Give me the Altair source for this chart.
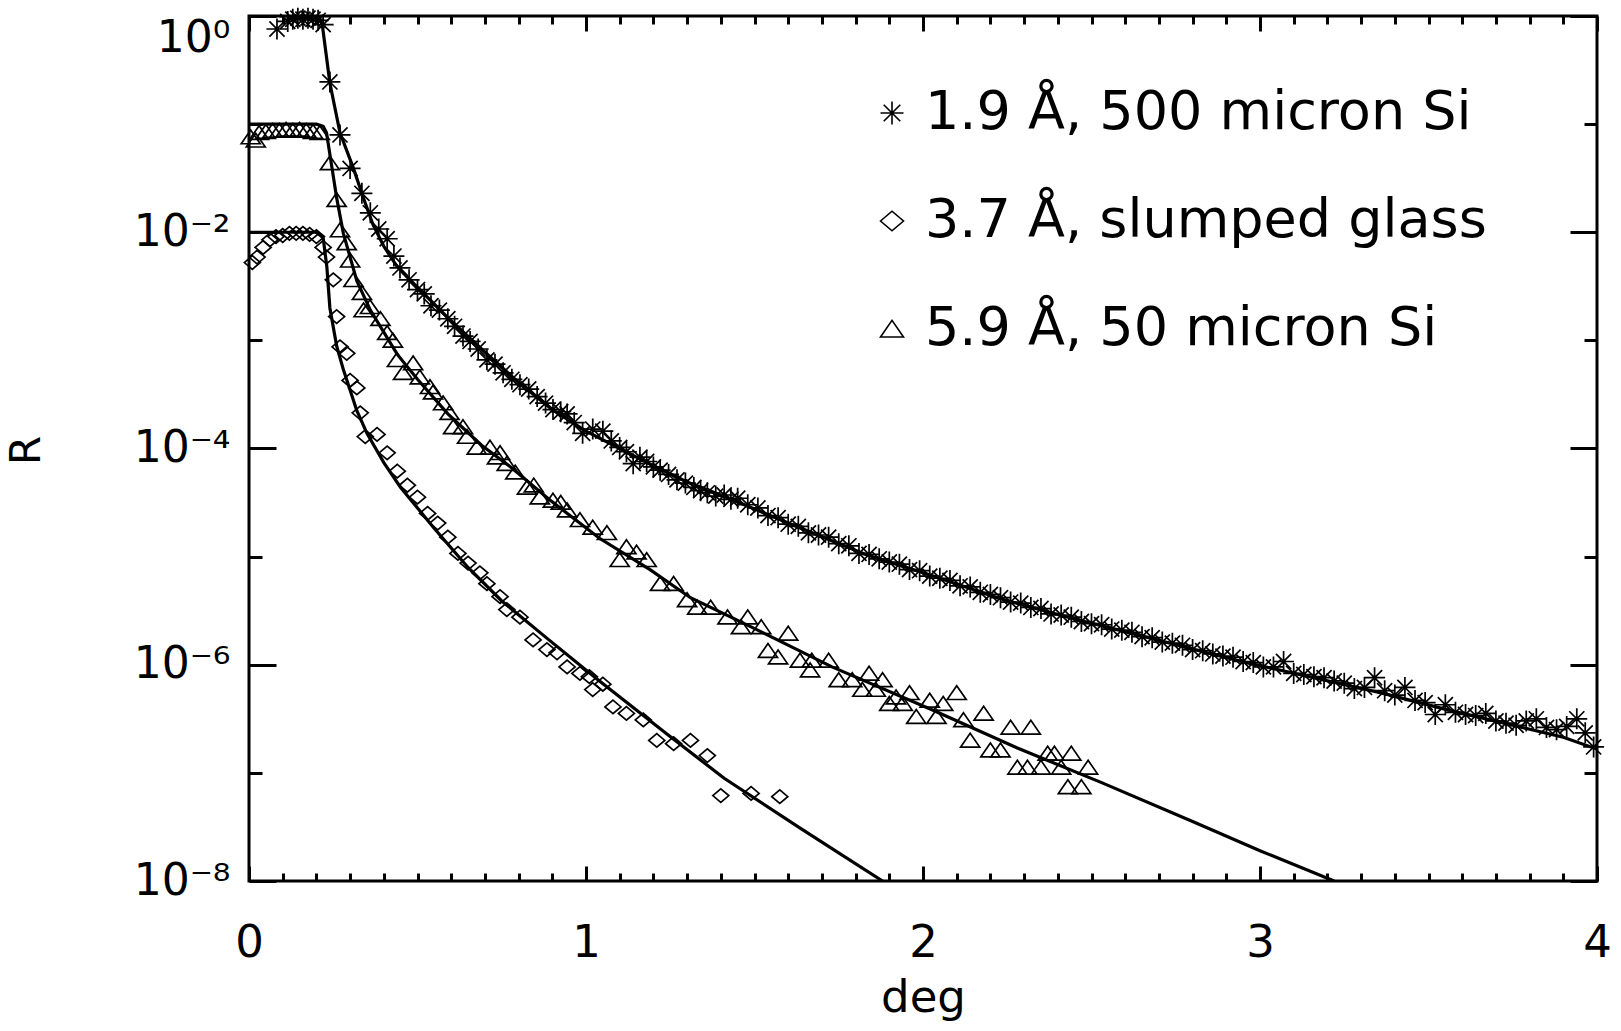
import altair as alt
import pandas as pd

S1 = "1.9 Å, 500 micron Si"
S2 = "3.7 Å, slumped glass"
S3 = "5.9 Å, 50 micron Si"
SERIES = [S1, S2, S3]

# ---- model curves (angle in deg, log10 R) ----
fit1_x = [0.09, 0.16, 0.205, 0.217, 0.24, 0.27, 0.309, 0.338, 0.368, 0.40, 0.44, 0.50, 0.59, 0.69, 0.80,
          0.90, 1.00, 1.10, 1.20, 1.30, 1.40, 1.50, 1.64, 1.83, 2.03, 2.23, 2.43, 2.62, 2.82, 2.96,
          3.16, 3.36, 3.56, 3.75, 3.90, 4.00]
fit1_lg = [0.0, 0.0, -0.01, -0.07, -0.62, -1.08, -1.40, -1.67, -1.93, -2.13, -2.32, -2.51, -2.79, -3.08, -3.39,
           -3.64, -3.84, -4.00, -4.16, -4.31, -4.43, -4.56, -4.74, -4.98, -5.18, -5.39, -5.56, -5.71, -5.87, -5.98,
           -6.12, -6.26, -6.42, -6.56, -6.67, -6.78]

fit2_x = [0.0, 0.20, 0.22, 0.231, 0.24, 0.26, 0.28, 0.32, 0.35, 0.40, 0.45, 0.55, 0.65, 0.75, 0.89,
          1.04, 1.24, 1.41, 1.64, 1.88]
fit2_lg = [-2.0, -2.0, -2.05, -2.32, -2.70, -3.05, -3.27, -3.65, -3.86, -4.13, -4.36, -4.74, -5.10, -5.41, -5.77,
           -6.15, -6.64, -7.05, -7.52, -8.0]

fit3_x = [0.0, 0.20, 0.22, 0.23, 0.246, 0.26, 0.28, 0.32, 0.36, 0.44, 0.50, 0.59, 0.69, 0.78, 0.89,
          1.04, 1.19, 1.31, 1.49, 1.73, 2.03, 2.28, 2.53, 2.80, 3.00, 3.22]
fit3_lg = [-1.0, -1.0, -1.02, -1.08, -1.40, -1.68, -2.01, -2.45, -2.72, -3.13, -3.36, -3.68, -3.97, -4.18, -4.47,
           -4.83, -5.12, -5.38, -5.65, -6.02, -6.42, -6.77, -7.09, -7.45, -7.72, -8.0]

# ---- measured points ----
pts1_x = [0.083, 0.115, 0.13, 0.145, 0.16, 0.175, 0.19, 0.205, 0.22, 0.24, 0.27, 0.30, 0.335, 0.36, 0.385,
          0.41, 0.43, 0.448, 0.475, 0.50, 0.52, 0.54, 0.565, 0.59, 0.61, 0.635, 0.656, 0.68, 0.706, 0.73,
          0.754, 0.78, 0.804, 0.83, 0.855, 0.88, 0.902, 0.925, 0.944, 0.965, 0.99, 1.02, 1.05, 1.075, 1.10,
          1.12, 1.14, 1.16, 1.18, 1.20, 1.22, 1.245, 1.27, 1.295, 1.32, 1.34, 1.36, 1.385, 1.41, 1.43,
          1.45, 1.48, 1.51, 1.54, 1.57, 1.60, 1.63, 1.66, 1.69, 1.72, 1.75, 1.78, 1.81, 1.84, 1.87,
          1.90, 1.93, 1.96, 1.99, 2.02, 2.05, 2.08, 2.11, 2.14, 2.17, 2.20, 2.23, 2.26, 2.29, 2.32,
          2.35, 2.38, 2.41, 2.44, 2.47, 2.50, 2.53, 2.56, 2.59, 2.62, 2.65, 2.68, 2.71, 2.74, 2.77,
          2.80, 2.83, 2.86, 2.89, 2.92, 2.95, 2.98, 3.01, 3.04, 3.07, 3.10, 3.13, 3.16, 3.19, 3.22,
          3.25, 3.28, 3.31, 3.34, 3.37, 3.40, 3.43, 3.46, 3.49, 3.52, 3.55, 3.58, 3.61, 3.64, 3.67,
          3.70, 3.73, 3.76, 3.79, 3.82, 3.85, 3.88, 3.91, 3.94, 3.965, 3.99]
pts1_lg = [-0.12, -0.05, -0.03, -0.02, -0.03, -0.02, -0.03, -0.04, -0.08, -0.61, -1.10, -1.41, -1.64, -1.82, -1.97,
           -2.06, -2.22, -2.33, -2.44, -2.53, -2.57, -2.68, -2.72, -2.80, -2.87, -2.96, -3.01, -3.08, -3.18, -3.22,
           -3.30, -3.36, -3.41, -3.45, -3.52, -3.58, -3.64, -3.66, -3.68, -3.76, -3.86, -3.82, -3.84, -3.93, -3.99,
           -4.03, -4.14, -4.08, -4.12, -4.17, -4.20, -4.24, -4.29, -4.32, -4.36, -4.39, -4.41, -4.44, -4.43, -4.47,
           -4.46, -4.52, -4.55, -4.62, -4.64, -4.70, -4.72, -4.78, -4.80, -4.82, -4.88, -4.90, -4.97, -4.98, -5.02,
           -5.05, -5.07, -5.12, -5.13, -5.18, -5.20, -5.22, -5.27, -5.28, -5.33, -5.35, -5.38, -5.42, -5.43, -5.47,
           -5.48, -5.53, -5.54, -5.56, -5.60, -5.62, -5.63, -5.67, -5.68, -5.70, -5.74, -5.75, -5.79, -5.80, -5.82,
           -5.86, -5.87, -5.90, -5.92, -5.93, -5.97, -5.98, -6.02, -6.02, -5.97, -6.08, -6.09, -6.11, -6.12, -6.15,
           -6.17, -6.22, -6.21, -6.12, -6.24, -6.28, -6.21, -6.33, -6.35, -6.46, -6.37, -6.44, -6.46, -6.47, -6.45,
           -6.52, -6.54, -6.56, -6.52, -6.50, -6.58, -6.60, -6.57, -6.50, -6.63, -6.76]

pts2_x = [0.01, 0.024, 0.042, 0.062, 0.08, 0.10, 0.12, 0.14, 0.16, 0.18, 0.20, 0.22, 0.23, 0.25, 0.26,
          0.27, 0.29, 0.30, 0.32, 0.33, 0.345, 0.38, 0.41, 0.44, 0.47, 0.50, 0.53, 0.56, 0.59, 0.62,
          0.65, 0.685, 0.706, 0.745, 0.765, 0.804, 0.843, 0.884, 0.914, 0.944, 0.982, 1.01, 1.02, 1.05, 1.08,
          1.12, 1.17, 1.21, 1.26, 1.31, 1.36, 1.40, 1.49, 1.575]
pts2_lg = [-2.28, -2.23, -2.14, -2.07, -2.04, -2.03, -2.01, -2.01, -2.01, -2.02, -2.04, -2.14, -2.23, -2.44, -2.78,
           -3.06, -3.12, -3.37, -3.44, -3.67, -3.89, -3.87, -4.04, -4.21, -4.34, -4.45, -4.60, -4.69, -4.82, -4.97,
           -5.06, -5.15, -5.25, -5.37, -5.49, -5.56, -5.77, -5.86, -5.89, -6.02, -6.08, -6.11, -6.23, -6.18, -6.39,
           -6.45, -6.51, -6.70, -6.73, -6.70, -6.84, -7.21, -7.19, -7.22]

pts3_x = [0.005, 0.02, 0.03, 0.05, 0.07, 0.09, 0.11, 0.13, 0.15, 0.17, 0.19, 0.21, 0.24, 0.26, 0.27,
          0.29, 0.30, 0.31, 0.335, 0.34, 0.359, 0.39, 0.41, 0.427, 0.439, 0.457, 0.487, 0.507, 0.537, 0.546,
          0.576, 0.595, 0.606, 0.635, 0.647, 0.676, 0.715, 0.736, 0.745, 0.765, 0.79, 0.825, 0.845, 0.863, 0.902,
          0.925, 0.944, 0.982, 1.02, 1.062, 1.10, 1.12, 1.15, 1.18, 1.22, 1.26, 1.30, 1.33, 1.37, 1.42,
          1.46, 1.48, 1.52, 1.54, 1.57, 1.60, 1.635, 1.665, 1.67, 1.72, 1.75, 1.79, 1.82, 1.84, 1.86,
          1.88, 1.90, 1.92, 1.94, 1.96, 1.98, 2.02, 2.04, 2.06, 2.10, 2.12, 2.14, 2.18, 2.20, 2.23,
          2.26, 2.28, 2.31, 2.32, 2.35, 2.37, 2.39, 2.41, 2.43, 2.44, 2.47, 2.49]
pts3_lg = [-1.12, -1.15, -1.08, -1.07, -1.06, -1.06, -1.05, -1.06, -1.05, -1.06, -1.07, -1.08, -1.36, -1.70, -1.98,
           -2.10, -2.26, -2.44, -2.56, -2.72, -2.69, -2.80, -2.93, -3.00, -3.18, -3.30, -3.21, -3.34, -3.43, -3.48,
           -3.58, -3.67, -3.80, -3.80, -3.89, -3.99, -3.99, -4.08, -4.04, -4.14, -4.22, -4.36, -4.34, -4.45, -4.48,
           -4.50, -4.57, -4.66, -4.73, -4.78, -5.03, -4.91, -4.96, -5.03, -5.25, -5.25, -5.40, -5.47, -5.47, -5.56,
           -5.65, -5.56, -5.65, -5.87, -5.93, -5.71, -5.96, -6.05, -5.96, -5.96, -6.14, -6.14, -6.23, -6.08, -6.23,
           -6.14, -6.36, -6.30, -6.36, -6.26, -6.48, -6.33, -6.48, -6.36, -6.26, -6.51, -6.70, -6.45, -6.79, -6.79,
           -6.58, -6.95, -6.95, -6.58, -6.95, -6.82, -6.82, -6.95, -7.13, -6.82, -7.13, -6.95]

# tick positions and labels
x_major = [0, 1, 2, 3, 4]
x_minor = [round(i * 0.1, 1) for i in range(1, 40) if i % 10 != 0]
y_major = [1.0, 1e-2, 1e-4, 1e-6, 1e-8]
y_minor = [1e-1, 1e-3, 1e-5, 1e-7]
y_label_expr = ("datum.value >= 0.5 ? '10⁰' : datum.value >= 0.005 ? '10⁻²' : "
                "datum.value >= 0.00005 ? '10⁻⁴' : datum.value >= 0.0000005 ? '10⁻⁶' : '10⁻⁸'")


def frame(xs, lgs, name):
    return pd.DataFrame({"deg": xs, "R": [10.0 ** v for v in lgs], "series": name})


lines_df = pd.concat([frame(fit1_x, fit1_lg, S1), frame(fit2_x, fit2_lg, S2), frame(fit3_x, fit3_lg, S3)],
                     ignore_index=True)
pts_df = pd.concat([frame(pts1_x, pts1_lg, S1), frame(pts2_x, pts2_lg, S2), frame(pts3_x, pts3_lg, S3)],
                   ignore_index=True)

W, H = 1348, 865
FONT = "DejaVu Sans"
xsc = alt.Scale(domain=[0, 4], nice=False, zero=False)
ysc = alt.Scale(type="log", domain=[1e-8, 1], nice=False)

STAR = "M0,-1L0,1M-1,0L1,0M-0.72,-0.72L0.72,0.72M-0.72,0.72L0.72,-0.72"
DIAMOND = "M-1,0L0,-0.85L1,0L0,0.85Z"
TRI = "M-1,0.7L0,-0.75L1,0.7Z"
size_expr = f"datum.series === '{S1}' ? 441 : (datum.series === '{S2}' ? 256 : 361)"


def tick_axis(orient, values, size, off):
    return alt.Axis(orient=orient, offset=off, values=values, tickSize=size, tickWidth=3, tickColor="black",
                    ticks=True, labels=False, domain=False, grid=False, title=None)


x_lab = alt.Axis(orient="bottom", values=x_major, ticks=False, tickSize=0, domain=False, grid=False,
                 labelFont=FONT, labelFontSize=45, labelColor="black", labelPadding=39, labelFlush=False,
                 labelOverlap=False, format="d",
                 title="deg", titleFont=FONT, titleFontSize=45, titleFontWeight="normal", titleColor="black",
                 titleY=130, titleBaseline="alphabetic")
y_lab = alt.Axis(orient="left", values=y_major, ticks=False, tickSize=0, domain=False, grid=False,
                 labelExpr=y_label_expr, labelFont=FONT, labelFontSize=44, labelColor="black", labelPadding=19,
                 labelFlush=False, labelOverlap=False,
                 labelBaseline={"condition": {"test": "datum.value >= 0.5", "value": "top"}, "value": "middle"},
                 title="R", titleFont=FONT, titleFontSize=42, titleFontWeight="normal", titleColor="black",
                 titleAngle=270, titleX=-210, titleY=434, titleBaseline="alphabetic", titleAlign="center")

lines = alt.Chart(lines_df).mark_line(color="black", strokeWidth=3.2, clip=True).encode(
    x=alt.X("deg:Q", scale=xsc, axis=x_lab),
    y=alt.Y("R:Q", scale=ysc, axis=y_lab),
    detail="series:N",
)

points = alt.Chart(pts_df).transform_calculate(msize=size_expr).mark_point(
    filled=False, color="black", strokeWidth=1.7, opacity=1).encode(
    x=alt.X("deg:Q", scale=xsc, axis=tick_axis("top", x_major, 15, -H)),
    y=alt.Y("R:Q", scale=ysc, axis=tick_axis("right", y_major, 27, -W)),
    shape=alt.Shape("series:N", scale=alt.Scale(domain=SERIES, range=[STAR, DIAMOND, TRI]),
                    legend=alt.Legend(title=None, orient="none", legendX=616, legendY=70, padding=0,
                                      labelFont=FONT, labelFontSize=54, labelColor="black", labelLimit=1200,
                                      labelOffset=6, symbolSize=529, symbolStrokeWidth=1.6,
                                      symbolStrokeColor="black", rowPadding=54)),
    size=alt.Size("msize:Q", scale=None),
)

d1 = alt.Chart(lines_df).mark_point(opacity=0, size=1).encode(
    x=alt.X("deg:Q", scale=xsc, axis=tick_axis("top", x_minor, 8, -H)),
    y=alt.Y("R:Q", scale=ysc, axis=tick_axis("right", y_minor, 13, -W)),
)
d2 = alt.Chart(lines_df).mark_point(opacity=0, size=1).encode(
    x=alt.X("deg:Q", scale=xsc, axis=tick_axis("bottom", x_major, 15, -H)),
    y=alt.Y("R:Q", scale=ysc, axis=tick_axis("left", y_major, 27, -W)),
)
d3 = alt.Chart(lines_df).mark_point(opacity=0, size=1).encode(
    x=alt.X("deg:Q", scale=xsc, axis=tick_axis("bottom", x_minor, 8, -H)),
    y=alt.Y("R:Q", scale=ysc, axis=tick_axis("left", y_minor, 13, -W)),
)

chart = alt.layer(lines, points, d1, d2, d3).resolve_axis(x="independent", y="independent").properties(
    width=W, height=H,
    autosize=alt.AutoSizeParams(type="none"),
    padding={"left": 249, "top": 16, "right": 24, "bottom": 150},
    background="white",
).configure_view(stroke="black", strokeWidth=3)

chart.save("out.html", embed_options={"renderer": "svg", "actions": False})
